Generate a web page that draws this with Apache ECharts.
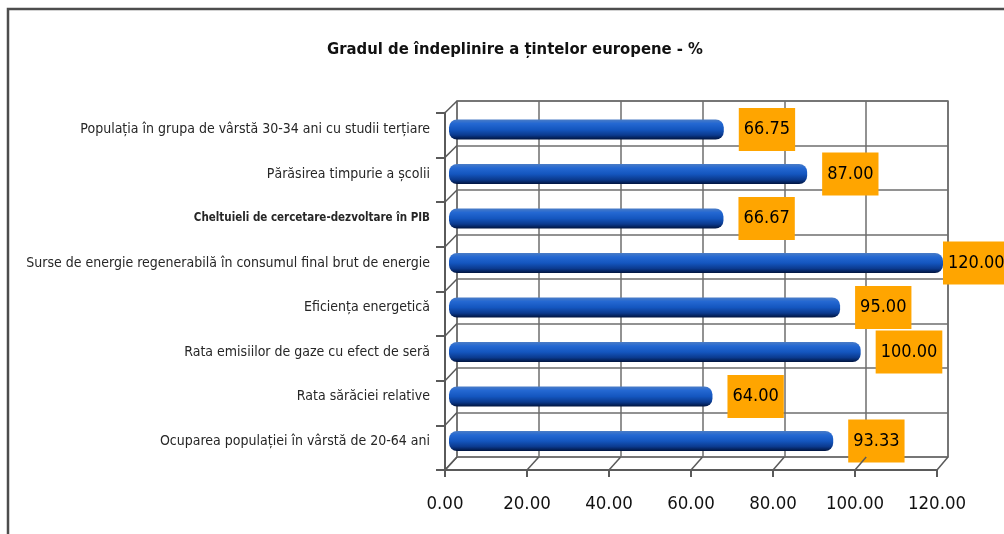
<!DOCTYPE html>
<html>
<head>
<meta charset="utf-8">
<script src="https://cdn.jsdelivr.net/npm/echarts@6/dist/echarts.min.js"></script>
<style>
  html, body { margin: 0; padding: 0; background: #fff; }
  #main { width: 1004px; height: 534px; }
</style>
</head>
<body>
<div id="main"></div>
<script>
// categories, top to bottom as in the picture
var categories = [
	'Populația în grupa de vârstă 30-34 ani cu studii terțiare',
	'Părăsirea timpurie a școlii',
	'Cheltuieli de cercetare-dezvoltare în PIB',
	'Surse de energie regenerabilă în consumul final brut de energie',
	'Eficiența energetică',
	'Rata emisiilor de gaze cu efect de seră',
	'Rata sărăciei relative',
	'Ocuparea populației în vârstă de 20-64 ani'
];
var values = [66.75, 87.00, 66.67, 120.00, 95.00, 100.00, 64.00, 93.33];
var xTicks = [0, 20, 40, 60, 80, 100, 120];

var narrow = '"Liberation Sans Narrow", "DejaVu Sans Condensed", sans-serif';
var gridColor = '#6e6e6e';

var myChart = echarts.init(document.getElementById('main'));

// bars: labels sit right of the bar end, the one at 120 is pushed against it
var barData = [];
for (var i = 0; i < values.length; i++) {
	var item = { value: values[i] };
	if (values[i] >= xTicks[xTicks.length - 1]) {
		item.label = { distance: 0 };
	}
	barData.push(item);
}

var option = {
	animation: false,
	title: {
		text: 'Gradul de îndeplinire a țintelor europene - %',
		left: 510,
		top: 36,
		textAlign: 'center',
		textStyle: {
			fontFamily: narrow,
			fontWeight: 'bold',
			fontSize: 16.5,
			color: '#111'
		}
	},
	grid: [
		// back wall
		{ left: 457, right: 56, top: 101, bottom: 77, outerBoundsMode: 'none',
		  show: true, borderColor: gridColor, borderWidth: 1.5 },
		// bars
		{ left: 449, right: 61, top: 107.25, bottom: 70.75, outerBoundsMode: 'none' },
		// front axes
		{ left: 445, right: 67, top: 112.7, bottom: 64, outerBoundsMode: 'none' }
	],
	xAxis: [
		{
			gridIndex: 0, type: 'value', min: 0, max: 120, interval: 20,
			axisLine: { show: false }, axisTick: { show: false }, axisLabel: { show: false },
			splitLine: { show: true, lineStyle: { color: gridColor, width: 1.5 } }
		},
		{
			gridIndex: 1, type: 'value', min: 0, max: 120, interval: 20,
			axisLine: { show: false }, axisTick: { show: false }, axisLabel: { show: false },
			splitLine: { show: false }
		},
		{
			gridIndex: 2, type: 'value', min: 0, max: 120, interval: 20,
			axisLine: { show: true, onZero: false, lineStyle: { color: '#5a5a5a', width: 2 } },
			axisTick: { show: true, length: 7, lineStyle: { color: '#5a5a5a', width: 2 } },
			axisLabel: {
				margin: 25,
				fontFamily: narrow,
				fontSize: 18.5,
				color: '#111',
				formatter: function (v) { return v.toFixed(2); }
			},
			splitLine: { show: false }
		}
	],
	yAxis: [
		{
			gridIndex: 0, type: 'category', inverse: true, data: categories,
			axisLine: { show: false }, axisTick: { show: false }, axisLabel: { show: false },
			splitLine: { show: true, lineStyle: { color: gridColor, width: 1.5 } }
		},
		{
			gridIndex: 1, type: 'category', inverse: true, data: categories,
			axisLine: { show: false }, axisTick: { show: false },
			axisLabel: {
				margin: 19,
				fontFamily: narrow,
				fontSize: 14,
				color: '#262626',
				formatter: function (v) {
					if (v.indexOf('Cheltuieli') === 0) return '{b|' + v + '}';
					return v;
				},
				rich: {
					b: {
						fontFamily: '"DejaVu Sans Condensed", sans-serif',
						fontWeight: 'bold',
						fontSize: 11.5,
						color: '#262626'
					}
				}
			}
		},
		{
			gridIndex: 2, type: 'category', inverse: true, data: categories,
			axisLine: { show: true, onZero: false, lineStyle: { color: '#5a5a5a', width: 2 } },
			axisTick: { show: true, length: 9, lineStyle: { color: '#5a5a5a', width: 2 } },
			axisLabel: { show: false }
		}
	],
	series: [
		{
			type: 'bar',
			xAxisIndex: 1,
			yAxisIndex: 1,
			barWidth: 20,
			data: barData,
			itemStyle: {
				borderRadius: 8,
				color: new echarts.graphic.LinearGradient(0, 0, 0, 1, [
					{ offset: 0, color: '#4a7cc6' },
					{ offset: 0.2, color: '#2468d2' },
					{ offset: 0.5, color: '#1456bf' },
					{ offset: 0.78, color: '#0b3a8e' },
					{ offset: 1, color: '#00143f' }
				])
			},
			label: {
				show: true,
				position: 'right',
				distance: 15,
				backgroundColor: '#FFA500',
				color: '#000',
				fontFamily: narrow,
				fontSize: 18,
				lineHeight: 24,
				padding: [10, 5, 9, 5],
				formatter: function (p) { return p.value.toFixed(2); }
			}
		}
	]
};
myChart.setOption(option);

// 3D look: diagonal joints between the front axes and the back wall
function addDepthLines() {
	var lines = [];
	var style = { stroke: '#5a5a5a', lineWidth: 1.5 };
	var front = myChart.getModel().getComponent('grid', 2).coordinateSystem.getRect();
	var back = myChart.getModel().getComponent('grid', 0).coordinateSystem.getRect();
	// floor: front ticks to back wall ticks
	for (var k = 0; k < xTicks.length; k++) {
		var f = myChart.convertToPixel({ xAxisIndex: 2 }, xTicks[k]);
		var b = myChart.convertToPixel({ xAxisIndex: 0 }, xTicks[k]);
		lines.push({
			type: 'line', silent: true, z: 5,
			shape: { x1: f, y1: front.y + front.height, x2: b, y2: back.y + back.height },
			style: style
		});
	}
	// left wall: each category boundary
	var n = categories.length;
	for (var j = 0; j <= n; j++) {
		var yf = front.y + front.height * j / n;
		var yb = back.y + back.height * j / n;
		lines.push({
			type: 'line', silent: true, z: 5,
			shape: { x1: front.x, y1: yf, x2: back.x, y2: yb },
			style: style
		});
	}
	// outer chart border
	lines.push({
		type: 'rect', silent: true, z: 0,
		shape: { x: 8, y: 9, width: 1010, height: 540 },
		style: { fill: null, stroke: '#4d4d4d', lineWidth: 2.5 }
	});
	myChart.setOption({ graphic: lines });
}
addDepthLines();
</script>
</body>
</html>
